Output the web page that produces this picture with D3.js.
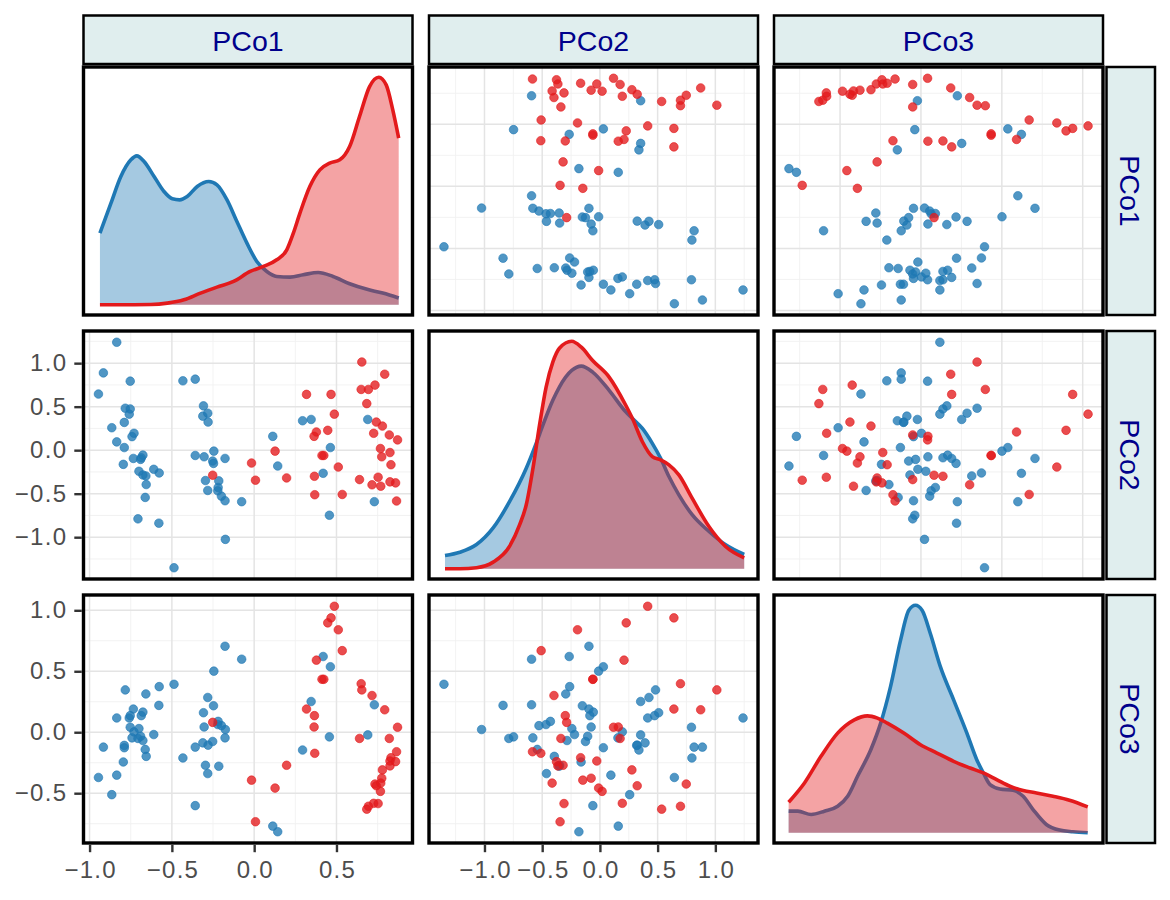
<!DOCTYPE html>
<html><head><meta charset="utf-8">
<script src="https://cdn.jsdelivr.net/npm/d3@7"></script>
<style>body{margin:0;background:#fff} svg{display:block}</style>
</head><body><svg id="c" width="1170" height="900"></svg>
<script>
// ---------------- data ----------------
const varNames = ["PCo1", "PCo2", "PCo3"];
const groupNames = ["blue", "red"];

const blueP1 = [-0.946,-0.916,-0.865,-0.835,-0.835,-0.795,-0.789,-0.789,-0.783,-0.759,-0.753,-0.753,-0.742,-0.734,-0.730,-0.706,-0.700,-0.690,-0.686,-0.676,-0.676,-0.662,-0.658,-0.656,-0.610,-0.579,-0.577,-0.487,-0.433,-0.358,-0.358,-0.312,-0.308,-0.304,-0.296,-0.282,-0.282,-0.280,-0.252,-0.247,-0.245,-0.221,-0.219,-0.215,-0.199,-0.177,-0.177,-0.175,-0.076,0.113,0.143,0.294,0.346,0.419,0.457,0.463,0.690,0.730];
const blueP2 = [0.645,0.888,0.258,1.24,0.095,-0.163,0.319,0.030,0.482,0.414,0.793,0.474,0.156,-0.095,0.194,-0.789,-0.243,-0.106,-0.087,-0.057,-0.285,-0.543,-0.296,-0.395,-0.220,-0.839,-0.262,-1.351,0.797,0.816,-0.061,0.391,0.509,-0.076,-0.349,0.425,-0.463,0.323,-0.125,-0.152,-0.011,-0.467,-0.429,-0.353,-0.528,-0.095,-0.581,-1.025,-0.592,0.159,-0.182,0.338,0.353,-0.266,-0.748,0.030,0.353,-0.592];
const blueP3 = [-0.371,-0.122,-0.512,0.117,-0.352,-0.244,-0.108,-0.127,0.347,0.117,0.041,0.136,-0.046,0.190,0.003,-0.051,0.030,-0.033,0.136,0.165,-0.068,-0.141,0.314,-0.198,-0.019,0.220,0.374,0.393,-0.211,-0.122,-0.602,-0.087,0.160,0.043,-0.271,0.285,-0.339,-0.106,-0.076,0.217,0.501,0.063,0.089,-0.279,0.054,0.705,-0.046,0.022,0.599,-0.770,-0.816,-0.146,0.252,0.621,-0.038,0.537,-0.022,0.225];

const redP1 = [-0.252,-0.016,0.008,0.127,0.197,0.318,0.467,0.487,0.447,0.378,0.364,0.412,0.423,0.511,0.366,0.368,0.535,0.654,0.793,0.650,0.694,0.734,0.684,0.742,0.779,0.726,0.821,0.871,0.767,0.825,0.775,0.831,0.640,0.753,0.716,0.769,0.825,0.859,0.865];
const redP2 = [-0.288,-0.148,-0.345,-0.011,-0.319,0.641,0.641,0.414,0.228,0.209,0.159,-0.061,-0.061,-0.194,-0.300,-0.512,-0.509,1.013,0.873,0.698,0.698,0.748,0.535,0.323,0.277,0.194,0.175,0.118,0.019,-0.027,-0.076,-0.167,-0.338,-0.311,-0.398,-0.414,-0.364,-0.376,-0.584];
const redP3 = [0.081,-0.393,-0.734,-0.458,-0.271,0.190,0.938,1.033,0.897,0.591,0.043,0.434,0.434,0.840,0.136,-0.173,0.669,0.347,0.184,0.398,-0.607,-0.425,-0.631,-0.439,-0.309,-0.583,-0.051,0.041,-0.485,-0.236,-0.377,-0.209,-0.051,-0.585,0.301,-0.417,-0.276,-0.241,-0.160];

// density curves: [value, relative density]
const densBlue1 = [[-0.937,215],[-0.870,305],[-0.810,385],[-0.749,435],[-0.713,447],[-0.669,430],[-0.608,385],[-0.548,340],[-0.497,318],[-0.453,315],[-0.407,325],[-0.346,355],[-0.276,370],[-0.226,360],[-0.165,315],[-0.105,250],[-0.044,185],[0.016,130],[0.077,100],[0.137,85],[0.218,83],[0.298,90],[0.389,97],[0.479,85],[0.580,63],[0.681,47],[0.781,35],[0.878,20]];
const densRed1 = [[-0.937,0],[-0.830,0],[-0.628,1],[-0.528,5],[-0.427,15],[-0.326,35],[-0.226,53],[-0.125,70],[-0.024,100],[0.056,115],[0.137,135],[0.198,165],[0.238,215],[0.278,275],[0.338,355],[0.399,405],[0.459,425],[0.520,435],[0.580,475],[0.640,565],[0.701,655],[0.757,683],[0.802,660],[0.842,585],[0.878,500]];
const densBlue2 = [[-1.342,40],[-1.213,50],[-1.069,73],[-0.925,123],[-0.782,203],[-0.638,303],[-0.552,378],[-0.494,433],[-0.408,508],[-0.351,548],[-0.244,598],[-0.161,611],[-0.063,593],[0.080,538],[0.224,473],[0.282,453],[0.368,423],[0.454,378],[0.526,333],[0.598,278],[0.684,223],[0.799,163],[0.943,113],[1.086,73],[1.250,43]];
const densRed2 = [[-1.342,0],[-1.213,0],[-1.069,3],[-0.925,20],[-0.782,68],[-0.695,133],[-0.638,193],[-0.580,303],[-0.523,433],[-0.466,548],[-0.408,623],[-0.351,665],[-0.244,686],[-0.161,668],[-0.063,628],[0.080,578],[0.224,493],[0.282,453],[0.368,383],[0.454,338],[0.526,328],[0.598,313],[0.684,283],[0.799,213],[0.943,128],[1.086,68],[1.250,33]];
const densBlue3 = [[-0.818,65],[-0.761,65],[-0.679,55],[-0.597,65],[-0.515,80],[-0.453,110],[-0.392,170],[-0.310,250],[-0.249,330],[-0.188,440],[-0.126,580],[-0.075,670],[-0.034,685],[0.007,670],[0.058,600],[0.120,500],[0.202,400],[0.284,300],[0.345,220],[0.386,180],[0.427,145],[0.488,132],[0.570,128],[0.632,110],[0.693,70],[0.775,25],[0.857,8],[0.939,3],[1.031,0]];
const densRed3 = [[-0.818,92],[-0.720,150],[-0.618,230],[-0.515,300],[-0.412,340],[-0.331,352],[-0.269,345],[-0.208,330],[-0.106,300],[-0.003,265],[0.099,240],[0.202,215],[0.304,195],[0.386,180],[0.468,160],[0.550,140],[0.632,127],[0.714,120],[0.816,110],[0.918,98],[1.031,78]];

const tickBreaks = [-1.0, -0.5, 0.0, 0.5, 1.0];

// ---------------- layout & style ----------------
const colX = [83.5, 429, 774], panelW = 329;
const rowY = [67, 331, 595], panelH = 248;
const colors = { blue: "#1f78b4", red: "#e31a1c" };
const font = "'Liberation Sans', Arial, Helvetica, sans-serif";

const svg = d3.select("#c");
const groups = {
  blue: [blueP1, blueP2, blueP3],
  red: [redP1, redP2, redP3]
};
const dens = [
  { blue: densBlue1, red: densRed1 },
  { blue: densBlue2, red: densRed2 },
  { blue: densBlue3, red: densRed3 }
];

const domains = [0, 1, 2].map(k => {
  const all = groups.blue[k].concat(groups.red[k]);
  const e = d3.extent(all), pad = (e[1] - e[0]) * 0.05;
  return [e[0] - pad, e[1] + pad];
});
const xS = [0, 1, 2].map(j => d3.scaleLinear().domain(domains[j]).range([colX[j], colX[j] + panelW]));
const yS = [0, 1, 2].map(i => d3.scaleLinear().domain(domains[i]).range([rowY[i] + panelH, rowY[i]]));

const fmt = v => d3.format(".1f")(v).replace("-", "\u2212");
const inDom = (d, v) => v >= d[0] && v <= d[1];
const minorBreaks = [];
for (let i = 0; i < tickBreaks.length - 1; i++) minorBreaks.push((tickBreaks[i] + tickBreaks[i + 1]) / 2);
minorBreaks.unshift(tickBreaks[0] - 0.25); minorBreaks.push(tickBreaks[tickBreaks.length - 1] + 0.25);

const defs = svg.append("defs");

for (let i = 0; i < 3; i++) {
  for (let j = 0; j < 3; j++) {
    const x0 = colX[j], y0 = rowY[i];
    const cid = `clip${i}${j}`;
    defs.append("clipPath").attr("id", cid).append("rect")
      .attr("x", x0).attr("y", y0).attr("width", panelW).attr("height", panelH);
    const g = svg.append("g");
    g.append("rect").attr("x", x0).attr("y", y0).attr("width", panelW).attr("height", panelH).attr("fill", "#fff");
    const inner = g.append("g").attr("clip-path", `url(#${cid})`);

    if (i === j) {
      // density panel
      const dd = dens[i];
      const M = d3.max(dd.blue.concat(dd.red), d => d[1]);
      const yd = d3.scaleLinear().domain([-0.045 * M, 1.045 * M]).range([y0 + panelH, y0]);
      const xs = xS[j];
      const area = d3.area().x(d => xs(d[0])).y0(yd(0)).y1(d => yd(d[1])).curve(d3.curveMonotoneX);
      const line = d3.line().x(d => xs(d[0])).y(d => yd(d[1])).curve(d3.curveMonotoneX);
      groupNames.forEach(gn => {
        inner.append("path").attr("d", area(dd[gn])).attr("fill", colors[gn]).attr("fill-opacity", 0.4);
        inner.append("path").attr("d", line(dd[gn])).attr("fill", "none")
          .attr("stroke", colors[gn]).attr("stroke-width", 3.6).attr("stroke-linejoin", "round");
      });
    } else {
      const xs = xS[j], ys = yS[i];
      // grid
      minorBreaks.filter(v => inDom(domains[j], v)).forEach(v =>
        inner.append("line").attr("x1", xs(v)).attr("x2", xs(v)).attr("y1", y0).attr("y2", y0 + panelH)
          .attr("stroke", "#f1f1f1").attr("stroke-width", 0.9));
      minorBreaks.filter(v => inDom(domains[i], v)).forEach(v =>
        inner.append("line").attr("y1", ys(v)).attr("y2", ys(v)).attr("x1", x0).attr("x2", x0 + panelW)
          .attr("stroke", "#f1f1f1").attr("stroke-width", 0.9));
      tickBreaks.filter(v => inDom(domains[j], v)).forEach(v =>
        inner.append("line").attr("x1", xs(v)).attr("x2", xs(v)).attr("y1", y0).attr("y2", y0 + panelH)
          .attr("stroke", "#e4e4e4").attr("stroke-width", 1.5));
      tickBreaks.filter(v => inDom(domains[i], v)).forEach(v =>
        inner.append("line").attr("y1", ys(v)).attr("y2", ys(v)).attr("x1", x0).attr("x2", x0 + panelW)
          .attr("stroke", "#e4e4e4").attr("stroke-width", 1.5));
      // points
      groupNames.forEach(gn => {
        const xv = groups[gn][j], yv = groups[gn][i];
        inner.selectAll(null).data(d3.range(xv.length)).enter().append("circle")
          .attr("cx", k => xs(xv[k])).attr("cy", k => ys(yv[k])).attr("r", 4.3)
          .attr("fill", colors[gn]).attr("fill-opacity", 0.78)
          .attr("stroke", colors[gn]).attr("stroke-opacity", 0.6).attr("stroke-width", 1);
      });
    }
    g.append("rect").attr("x", x0).attr("y", y0).attr("width", panelW).attr("height", panelH)
      .attr("fill", "none").attr("stroke", "#000").attr("stroke-width", 3.4);
  }
}

// x axes (bottom row, columns 1-2)
const styleAxis = ax => {
  ax.select(".domain").remove();
  ax.selectAll(".tick line").attr("stroke", "#333").attr("stroke-width", 2.4);
  ax.selectAll(".tick text").attr("fill", "#4d4d4d").style("font-family", font)
    .style("font-size", "24px").style("letter-spacing", "1.3px");
};
[0, 1].forEach(j => {
  const ax = svg.append("g").attr("transform", `translate(0,${rowY[2] + panelH + 1.7})`)
    .call(d3.axisBottom(xS[j]).tickValues(tickBreaks.filter(v => inDom(domains[j], v)))
      .tickFormat(fmt).tickSize(7.5).tickPadding(9));
  styleAxis(ax);
  ax.selectAll(".tick text").attr("dx", "0.6px");
});
// y axes (rows 2-3)
[1, 2].forEach(i => {
  const ax = svg.append("g").attr("transform", `translate(${colX[0] - 1.7},0)`)
    .call(d3.axisLeft(yS[i]).tickValues(tickBreaks.filter(v => inDom(domains[i], v)))
      .tickFormat(fmt).tickSize(7.5).tickPadding(7));
  styleAxis(ax);
});

// strips
const stripFill = "#e0eeee", stripText = "#00008b";
varNames.forEach((name, j) => {
  svg.append("rect").attr("x", colX[j]).attr("y", 15.5).attr("width", panelW).attr("height", 48.5)
    .attr("fill", stripFill).attr("stroke", "#000").attr("stroke-width", 2.5);
  svg.append("text").attr("x", colX[j] + panelW / 2).attr("y", 40.5).attr("dy", "0.36em")
    .attr("text-anchor", "middle").attr("fill", stripText)
    .style("font-family", font).style("font-size", "28.5px").text(name);
});
varNames.forEach((name, i) => {
  const sx = colX[2] + panelW + 3.5, sw = 48.5;
  svg.append("rect").attr("x", sx).attr("y", rowY[i]).attr("width", sw).attr("height", panelH)
    .attr("fill", stripFill).attr("stroke", "#000").attr("stroke-width", 2.5);
  svg.append("text").attr("transform", `translate(${sx + sw / 2},${rowY[i] + panelH / 2}) rotate(90)`)
    .attr("dy", "0.36em").attr("text-anchor", "middle").attr("fill", stripText)
    .style("font-family", font).style("font-size", "28.5px").text(name);
});
</script></body></html>
